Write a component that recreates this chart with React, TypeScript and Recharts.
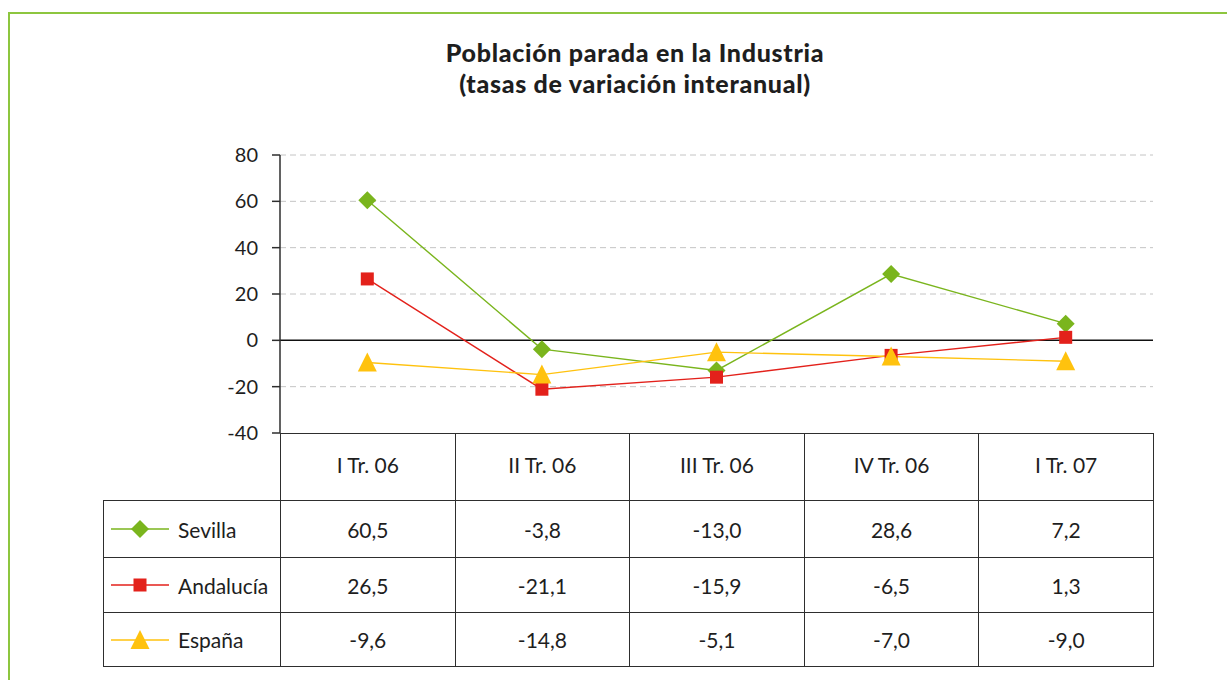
import React from 'react'
import { CartesianGrid, Line, LineChart, ReferenceLine, XAxis, YAxis } from 'recharts'

const periods = ['I Tr. 06', 'II Tr. 06', 'III Tr. 06', 'IV Tr. 06', 'I Tr. 07']
const sevilla = [60.5, -3.8, -13.0, 28.6, 7.2]
const andalucia = [26.5, -21.1, -15.9, -6.5, 1.3]
const espana = [-9.6, -14.8, -5.1, -7.0, -9.0]
const yTicks = [-40, -20, 0, 20, 40, 60, 80]

const series = [
  { key: 'sevilla', name: 'Sevilla', values: sevilla, color: '#7ab51d', shape: 'diamond' },
  { key: 'andalucia', name: 'Andalucía', values: andalucia, color: '#e3211b', shape: 'square' },
  { key: 'espana', name: 'España', values: espana, color: '#ffc20e', shape: 'triangle' }
]

const data = periods.map((period, i) => {
  const row: Record<string, string | number> = { period }
  series.forEach((s) => (row[s.key] = s.values[i]))
  return row
})

const FONT = 'Lato, "Open Sans", sans-serif'
const INK = '#1e1e1e'
const BORDER = '1.5px solid #2e2e2e'

const fmt = (v: number) => v.toFixed(1).replace('.', ',')

function Marker({ shape, cx, cy, color }: { shape: string; cx: number; cy: number; color: string }) {
  if (shape === 'diamond')
    return <polygon points={`${cx},${cy - 9} ${cx + 9},${cy} ${cx},${cy + 9} ${cx - 9},${cy}`} fill={color} />
  if (shape === 'square') return <rect x={cx - 6.5} y={cy - 6.5} width={13} height={13} fill={color} />
  return <polygon points={`${cx},${cy - 10} ${cx + 9.5},${cy + 9} ${cx - 9.5},${cy + 9}`} fill={color} />
}

export default function App() {
  return (
    <div
      style={{
        position: 'absolute',
        left: 0,
        top: 0,
        width: 1227,
        height: 680,
        overflow: 'hidden',
        background: '#fff',
        fontFamily: FONT,
        color: INK
      }}
    >
      {/* green frame, runs off the right and bottom edges */}
      <div
        style={{
          position: 'absolute',
          left: 8,
          top: 12,
          width: 1260,
          height: 720,
          border: '2px solid #8dc63f'
        }}
      />

      <div
        style={{
          position: 'absolute',
          left: 335,
          top: 37,
          width: 600,
          textAlign: 'center',
          fontWeight: 900,
          fontSize: 25,
          letterSpacing: 0.7,
          lineHeight: '31px'
        }}
      >
        Población parada en la Industria
        <br />
        (tasas de variación interanual)
      </div>

      <div style={{ position: 'absolute', left: 0, top: 0 }}>
        <LineChart
          width={1227}
          height={680}
          data={data}
          margin={{ top: 155, right: 74, bottom: 247, left: 200 }}
        >
          <CartesianGrid
            vertical={false}
            stroke="#c4c4c4"
            strokeDasharray="6 4"
            horizontalValues={[-20, 20, 40, 60, 80]}
          />
          <XAxis dataKey="period" scale="band" hide />
          <YAxis
            width={80}
            domain={[-40, 80]}
            ticks={yTicks}
            interval={0}
            tickSize={8}
            tickMargin={14}
            tick={{ fill: INK, fontSize: 20, fontFamily: FONT }}
            axisLine={{ stroke: '#2e2e2e', strokeWidth: 1.5 }}
            tickLine={{ stroke: '#2e2e2e', strokeWidth: 1.5 }}
          />
          <ReferenceLine y={0} stroke="#111" strokeWidth={1.5} />
          {series.map((s) => (
            <Line
              key={s.key}
              dataKey={s.key}
              type="linear"
              stroke={s.color}
              strokeWidth={1.4}
              isAnimationActive={false}
              activeDot={false}
              dot={(p: any) => (
                <Marker key={`${s.key}-${p.index}`} shape={s.shape} cx={p.cx} cy={p.cy} color={s.color} />
              )}
            />
          ))}
        </LineChart>
      </div>

      <table
        style={{
          position: 'absolute',
          left: 103,
          top: 433,
          width: 1050,
          borderCollapse: 'collapse',
          tableLayout: 'fixed',
          fontSize: 21,
          fontFamily: FONT,
          color: INK
        }}
      >
        <colgroup>
          <col style={{ width: 177 }} />
          {periods.map((p) => (
            <col key={p} style={{ width: 174.6 }} />
          ))}
        </colgroup>
        <tbody>
          <tr style={{ height: 67 }}>
            <td style={{ border: 'none' }} />
            {periods.map((p) => (
              <td key={p} style={{ border: BORDER, textAlign: 'center', paddingBottom: 6 }}>
                {p}
              </td>
            ))}
          </tr>
          {series.map((s, ri) => (
            <tr key={s.key} style={{ height: [57, 55, 54][ri] }}>
              <td style={{ border: BORDER, padding: 0, whiteSpace: 'nowrap' }}>
                <div style={{ display: 'flex', alignItems: 'center' }}>
                  <svg width={58} height={22} style={{ marginLeft: 7, marginRight: 9 }}>
                    <line x1={0} y1={11} x2={58} y2={11} stroke={s.color} strokeWidth={1.4} />
                    <Marker shape={s.shape} cx={29} cy={11} color={s.color} />
                  </svg>
                  <span>{s.name}</span>
                </div>
              </td>
              {s.values.map((v, i) => (
                <td key={i} style={{ border: BORDER, textAlign: 'center', padding: 0 }}>
                  {fmt(v)}
                </td>
              ))}
            </tr>
          ))}
        </tbody>
      </table>
    </div>
  )
}
